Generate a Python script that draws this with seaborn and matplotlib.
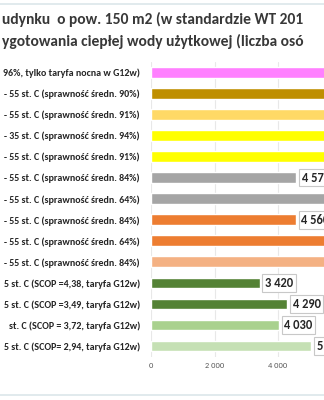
import matplotlib
matplotlib.use('Agg')
import matplotlib.pyplot as plt
from matplotlib.lines import Line2D
import seaborn as sns
import pandas as pd

# ---------------- data ----------------
categories = [
    "96%, tylko taryfa nocna w G12w)",
    "- 55 st. C (sprawność średn. 90%)",
    "- 55 st. C (sprawność średn. 91%)",
    "- 35 st. C (sprawność średn. 94%)",
    "- 55 st. C (sprawność średn. 91%)",
    "- 55 st. C (sprawność średn. 84%)",
    "- 55 st. C (sprawność średn. 64%)",
    "- 55 st. C (sprawność średn. 84%)",
    "- 55 st. C (sprawność średn. 64%)",
    "- 55 st. C (sprawność średn. 84%)",
    "5 st. C (SCOP =4,38, taryfa G12w)",
    "5 st. C (SCOP =3,49, taryfa G12w)",
    "st. C (SCOP = 3,72, taryfa G12w)",
    "5 st. C (SCOP= 2,94, taryfa G12w)",
]
values = [7200, 7600, 6900, 5800, 6000, 4570, 6000, 4560, 5990, 7400, 3420, 4290, 4030, 5040]
value_labels = [None, None, None, None, None, "4 570", None,
                "4 560", None, None, "3 420", "4 290", "4 030", "5 040"]
colors = ["#FF80FF", "#BF8F00", "#FFD966", "#FFFF00", "#FFFF00", "#A5A5A5", "#A5A5A5",
          "#ED7D31", "#ED7D31", "#F4B183", "#548235", "#548235", "#A9D18E", "#C5E0B4"]
xticks = [0, 2000, 4000, 6000, 8000, 10000]
xtick_labels = ["0", "2 000", "4 000", "6 000", "8 000", "10 000"]
title_lines = ["udynku  o pow. 150 m2 (w standardzie WT 201",
               "ygotowania ciepłej wody użytkowej (liczba osó"]

# ---------------- style ----------------
sns.set_style('white')
plt.rcParams['font.family'] = ['Carlito', 'DejaVu Sans']

W, H = 324, 400
fig = plt.figure(figsize=(W / 100, H / 100), dpi=100)
fig.patch.set_facecolor('white')

px_per_unit = 0.03175
xmax = 10000
ax = fig.add_axes([151 / W, 1 - 356.5 / H, xmax * px_per_unit / W, (356.5 - 62) / H])

keys = [f"row{i}" for i in range(len(categories))]
df = pd.DataFrame({"key": keys, "val": values})
sns.barplot(data=df, x="val", y="key", hue="key", palette=colors, legend=False,
            orient='h', width=0.51, ax=ax, saturation=1)

ax.set_xlim(0, xmax)
ax.set_ylim(len(categories) - 0.5, -0.5)
ax.set_xlabel("")
ax.set_ylabel("")
for s in ax.spines.values():
    s.set_visible(False)
ax.set_yticks(range(len(categories)))
ax.set_yticklabels(categories)
ax.set_xticks(xticks)
ax.set_xticklabels(xtick_labels)
ax.xaxis.grid(True, color='#E8E8E8', lw=0.8)
ax.set_axisbelow(True)
ax.tick_params(axis='x', length=0, pad=4, labelsize=6, labelcolor='#595959')
ax.tick_params(axis='y', length=0, pad=8, labelsize=7.2, labelcolor='#262626')
for lab in ax.get_yticklabels():
    lab.set_fontweight('bold')

for i, (v, t) in enumerate(zip(values, value_labels)):
    if t is None:
        continue
    ax.text(v + 5.5 / px_per_unit, i, t, va='center', ha='left', fontsize=9,
            fontweight='bold', color='#262626', clip_on=False,
            bbox=dict(boxstyle='square,pad=0.22', fc='white', ec='#C8C8C8', lw=0.8))

fig.text(2 / W, 1 - 19 / H, title_lines[0], ha='left', va='center', fontsize=11.2,
         fontweight='bold', color='#383838')
fig.text(2 / W, 1 - 41 / H, title_lines[1], ha='left', va='center', fontsize=11.2,
         fontweight='bold', color='#383838')

fig.add_artist(Line2D([0, 1], [1 - 4 / H] * 2, transform=fig.transFigure, color='#DCE6EA', lw=1.2))
fig.add_artist(Line2D([0, 1], [1 - 395 / H] * 2, transform=fig.transFigure, color='#DCE6EA', lw=1.2))

fig.savefig('out.png', dpi=100)
